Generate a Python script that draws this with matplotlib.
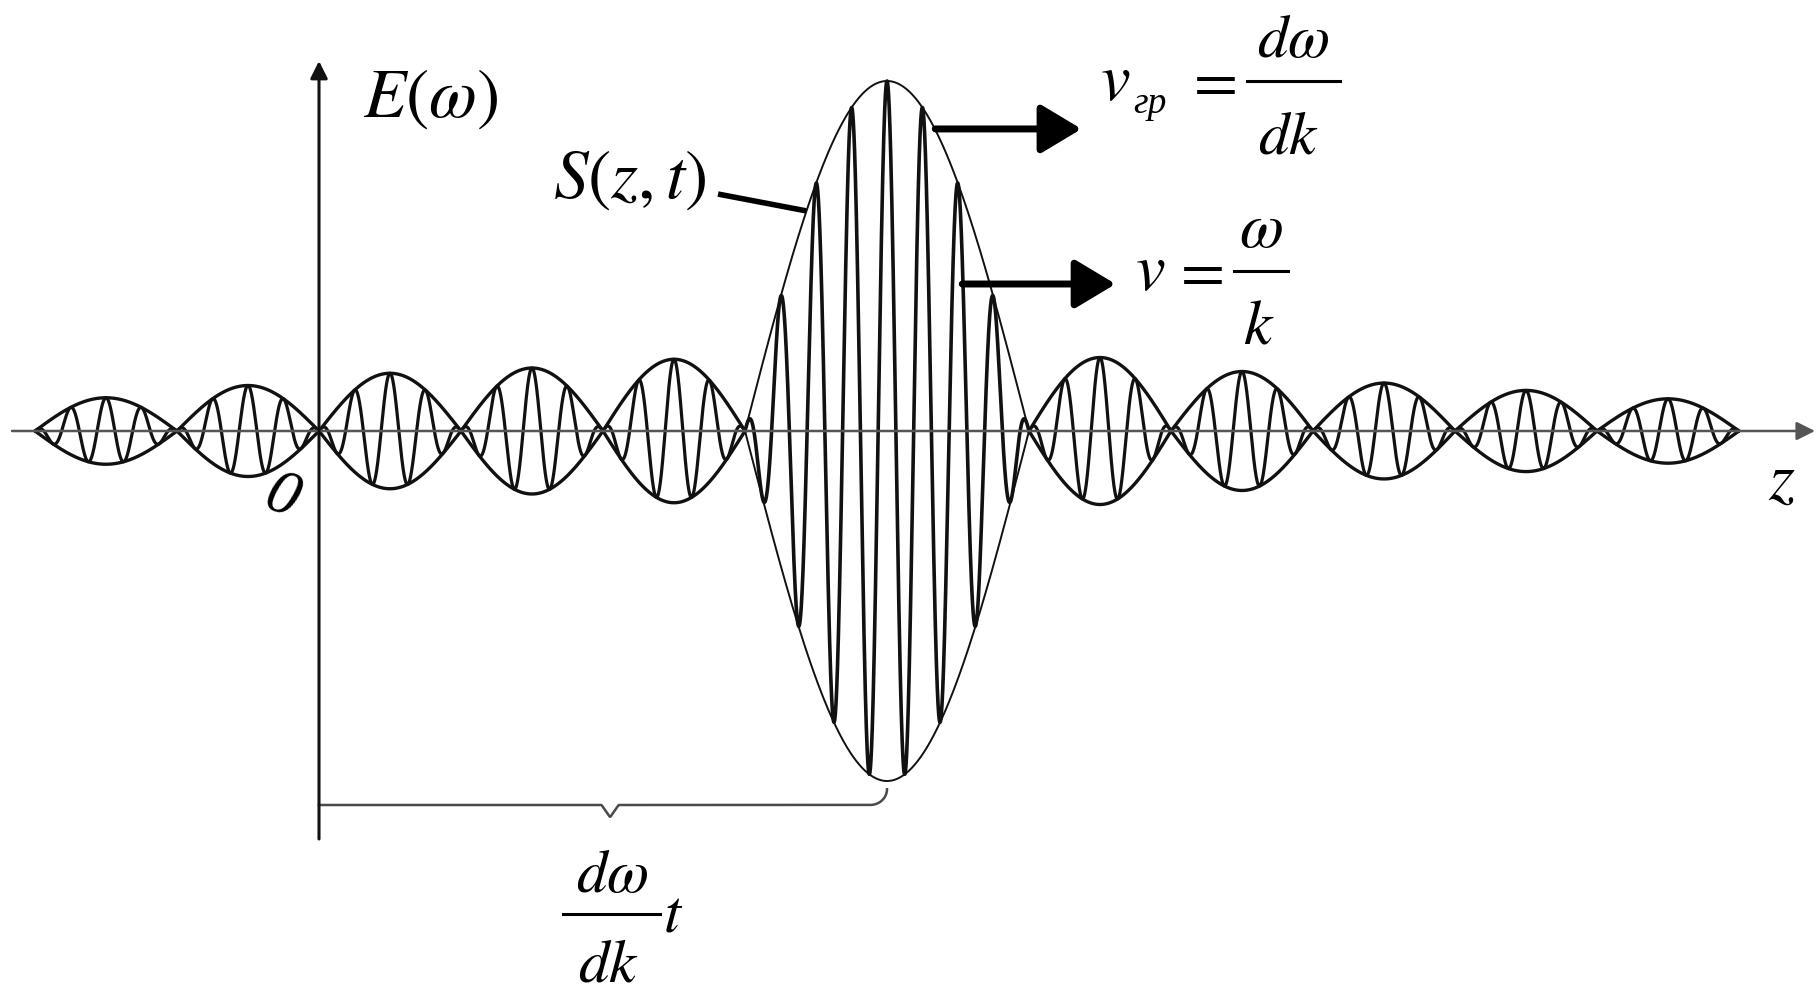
import numpy as np
import matplotlib.pyplot as plt
from matplotlib.lines import Line2D

W, H = 1818, 995

# envelope nodes along z (unit = width of one side lobe), z = 0 at the E axis
left_nodes = [-2, -1, 0, 1, 2, 3]
left_amps = [0.095, 0.13, 0.165, 0.18, 0.205]
main_nodes = [3, 5]
main_amp = 1.0
right_nodes = [5, 6, 7, 8, 9, 10]
right_amps = [0.21, 0.17, 0.137, 0.116, 0.092]
carrier_period = 0.25
packet_center = 4.0

# arrows to the velocity labels: (height, z start, z end)
arrow_rows = [(0.863, 4.34, 5.37), (0.42, 4.53, 5.61)]
# leader line from S(z,t) to the envelope
leader_z = [2.81, 3.43]
leader_a = [0.677, 0.629]

# how data units sit in the picture (pixels)
x0_px, unit_px = 319, 142
axis_px, amp_px = 432, 350

plt.rcParams['mathtext.fontset'] = 'stix'

fig = plt.figure(figsize=(W / 100, H / 100), dpi=100)
ax = fig.add_axes([0, 0, 1, 1])
ax.set_xlim(-x0_px / unit_px, (W - x0_px) / unit_px)
ax.set_ylim(-(H - axis_px) / amp_px, axis_px / amp_px)
ax.axis('off')

ink = '#111111'

# build the lobes of the envelope
lobes = []
for i in range(len(left_amps)):
    lobes.append((left_nodes[i], left_nodes[i + 1], left_amps[i], 2.4))
lobes.append((main_nodes[0], main_nodes[1], main_amp, 1.4))
for i in range(len(right_amps)):
    lobes.append((right_nodes[i], right_nodes[i + 1], right_amps[i], 2.4))

for a, b, amp, lw in lobes:
    z = np.linspace(a, b, 300)
    env = amp * np.sin(np.pi * (z - a) / (b - a))
    ax.plot(z, env, color=ink, lw=lw, solid_capstyle='round')
    ax.plot(z, -env, color=ink, lw=lw, solid_capstyle='round')
    # carrier wave inside the envelope
    zc = np.linspace(a, b, 4000)
    envc = amp * np.sin(np.pi * (zc - a) / (b - a))
    wave = envc * np.cos(2 * np.pi * (zc - packet_center) / carrier_period)
    ax.plot(zc, wave, color=ink, lw=2.3 if amp < 0.5 else 2.6)

# z axis
ax.annotate('', xy=((1815 - x0_px) / unit_px, 0), xytext=((12 - x0_px) / unit_px, 0),
            arrowprops=dict(arrowstyle='-|>', lw=1.8, color='#555555', mutation_scale=28,
                            shrinkA=0, shrinkB=0))
# E axis
ax.annotate('', xy=(0, (axis_px - 62) / amp_px), xytext=(0, (axis_px - 840) / amp_px),
            arrowprops=dict(arrowstyle='-|>', lw=2.2, color=ink, mutation_scale=26,
                            shrinkA=0, shrinkB=0))

# velocity arrows
for a, z1, z2 in arrow_rows:
    ax.annotate('', xy=(z2, a), xytext=(z1, a),
                arrowprops=dict(arrowstyle='-|>,head_length=0.5,head_width=0.3', lw=5,
                                color='black', mutation_scale=50, shrinkA=0, shrinkB=0))

# leader line for S(z,t)
ax.plot(leader_z, leader_a, color='black', lw=4, solid_capstyle='butt')

# brace under the axis, from the origin to the packet centre
base = (axis_px - 806) / amp_px
mid = packet_center / 2 + 0.05
zb = np.linspace(0, packet_center - 0.12, 600)
yb = base - 0.035 * np.clip(1 - np.abs(zb - mid) / 0.06, 0, None)
t = np.linspace(-np.pi / 2, 0, 30)
zb = np.concatenate([zb, packet_center - 0.12 + 0.12 * np.cos(t)])
yb = np.concatenate([yb, base + 0.045 + 0.045 * np.sin(t)])
ax.plot(zb, yb, color='#4a4a4a', lw=1.8)


def put(x, y, s, size, **kw):
    fig.text(x / W, 1 - y / H, s, fontsize=size, ha='center', va='baseline', color='black', **kw)


def bar(x1, x2, y):
    fig.add_artist(Line2D([x1 / W, x2 / W], [1 - y / H] * 2, transform=fig.transFigure,
                          color='black', lw=2.2))


put(431, 117, r'$E(\omega)$', 50)
put(630, 198, r'$S(z,t)$', 50)
put(1782, 499, r'$z$', 48)
put(282, 517, '0', 46, family='Liberation Serif', style='italic', rotation=-20)

put(1115, 100, r'$v$', 48)
put(1150, 113, 'гр', 27, family='Liberation Serif', style='italic')
put(1210, 100, r'$=$', 46)
bar(1247, 1340, 82)
put(1293, 57, r'$d\omega$', 44)
put(1288, 153, r'$dk$', 44)

put(1150, 290, r'$v$', 48)
put(1197, 290, r'$=$', 46)
bar(1234, 1288, 272)
put(1261, 247, r'$\omega$', 46)
put(1259, 343, r'$k$', 46)

put(612, 892, r'$d\omega$', 44)
bar(563, 660, 915)
put(608, 982, r'$dk$', 44)
put(673, 932, r'$t$', 44)

fig.savefig('out.png', dpi=100, facecolor='white')
